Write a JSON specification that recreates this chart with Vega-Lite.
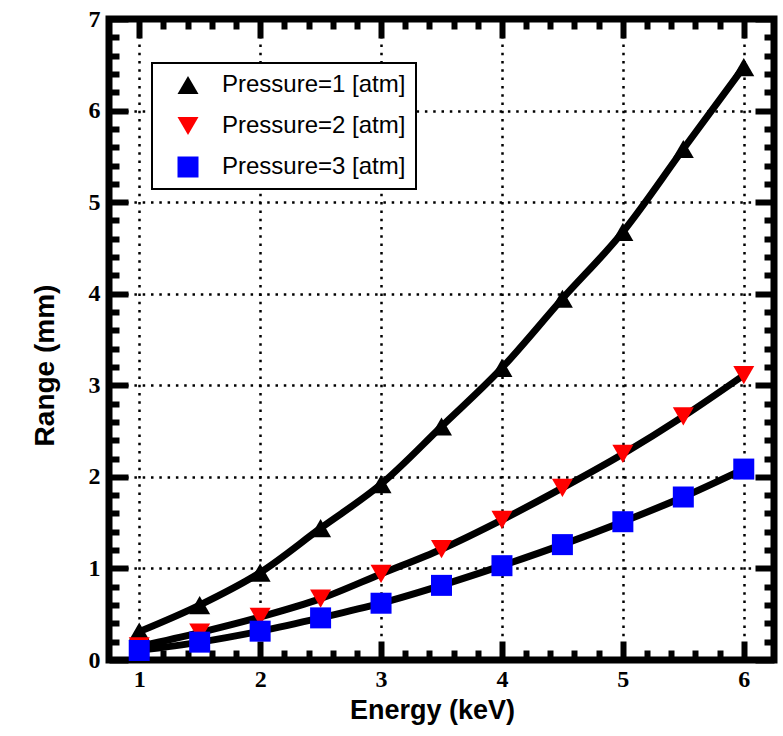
{
  "$schema": "https://vega.github.io/schema/vega-lite/v6.json",
  "width": 665,
  "height": 641,
  "autosize": {"type": "none"},
  "padding": {"left": 109, "top": 19, "right": 9, "bottom": 76},
  "background": "white",
  "config": {"view": {"stroke": "black", "strokeWidth": 7}, "legend": {"strokeWidth": 2}},
  "data": {"values": [
    {"E": 1, "R": 0.31, "P": "Pressure=1 [atm]"},
    {"E": 1.5, "R": 0.60, "P": "Pressure=1 [atm]"},
    {"E": 2, "R": 0.955, "P": "Pressure=1 [atm]"},
    {"E": 2.5, "R": 1.44, "P": "Pressure=1 [atm]"},
    {"E": 3, "R": 1.92, "P": "Pressure=1 [atm]"},
    {"E": 3.5, "R": 2.55, "P": "Pressure=1 [atm]"},
    {"E": 4, "R": 3.19, "P": "Pressure=1 [atm]"},
    {"E": 4.5, "R": 3.945, "P": "Pressure=1 [atm]"},
    {"E": 5, "R": 4.675, "P": "Pressure=1 [atm]"},
    {"E": 5.5, "R": 5.58, "P": "Pressure=1 [atm]"},
    {"E": 6, "R": 6.475, "P": "Pressure=1 [atm]"},
    {"E": 1, "R": 0.15, "P": "Pressure=2 [atm]"},
    {"E": 1.5, "R": 0.30, "P": "Pressure=2 [atm]"},
    {"E": 2, "R": 0.47, "P": "Pressure=2 [atm]"},
    {"E": 2.5, "R": 0.67, "P": "Pressure=2 [atm]"},
    {"E": 3, "R": 0.94, "P": "Pressure=2 [atm]"},
    {"E": 3.5, "R": 1.21, "P": "Pressure=2 [atm]"},
    {"E": 4, "R": 1.53, "P": "Pressure=2 [atm]"},
    {"E": 4.5, "R": 1.88, "P": "Pressure=2 [atm]"},
    {"E": 5, "R": 2.25, "P": "Pressure=2 [atm]"},
    {"E": 5.5, "R": 2.66, "P": "Pressure=2 [atm]"},
    {"E": 6, "R": 3.11, "P": "Pressure=2 [atm]"},
    {"E": 1, "R": 0.104, "P": "Pressure=3 [atm]"},
    {"E": 1.5, "R": 0.195, "P": "Pressure=3 [atm]"},
    {"E": 2, "R": 0.315, "P": "Pressure=3 [atm]"},
    {"E": 2.5, "R": 0.46, "P": "Pressure=3 [atm]"},
    {"E": 3, "R": 0.62, "P": "Pressure=3 [atm]"},
    {"E": 3.5, "R": 0.815, "P": "Pressure=3 [atm]"},
    {"E": 4, "R": 1.03, "P": "Pressure=3 [atm]"},
    {"E": 4.5, "R": 1.26, "P": "Pressure=3 [atm]"},
    {"E": 5, "R": 1.51, "P": "Pressure=3 [atm]"},
    {"E": 5.5, "R": 1.78, "P": "Pressure=3 [atm]"},
    {"E": 6, "R": 2.085, "P": "Pressure=3 [atm]"}
  ]},
  "resolve": {"axis": {"x": "independent", "y": "independent"}},
  "layer": [
    {
      "mark": {"type": "point", "opacity": 0},
      "encoding": {
        "x": {"field": "E", "type": "quantitative", "scale": {"domain": [0.75, 6.25], "nice": false, "zero": false},
          "axis": {"orient": "bottom", "values": [1, 2, 3, 4, 5, 6], "format": "d", "grid": true, "gridColor": "black", "gridDash": [2.5, 5.8], "gridWidth": 2.5, "gridOpacity": 1,
            "domain": false, "tickSize": -19, "tickWidth": 6, "tickColor": "black", "tickOpacity": 1,
            "labelFont": "Liberation Serif", "labelFontWeight": "bold", "labelFontSize": 24, "labelColor": "black", "labelPadding": 26, "labelFlush": false, "labelOverlap": false,
            "title": "Energy (keV)", "titleFont": "Liberation Sans", "titleFontWeight": "bold", "titleFontSize": 27, "titleColor": "black", "titleX": 323, "titleY": 58, "titleBaseline": "alphabetic", "titleAlign": "center"}},
        "y": {"field": "R", "type": "quantitative", "scale": {"domain": [0, 7], "nice": false, "zero": false},
          "axis": {"orient": "left", "values": [0, 1, 2, 3, 4, 5, 6, 7], "format": "d", "grid": true, "gridColor": "black", "gridDash": [2.5, 5.8], "gridWidth": 2.5, "gridOpacity": 1,
            "domain": false, "tickSize": -19, "tickWidth": 6, "tickColor": "black", "tickOpacity": 1,
            "labelFont": "Liberation Serif", "labelFontWeight": "bold", "labelFontSize": 24, "labelColor": "black", "labelPadding": 28, "labelFlush": false, "labelOverlap": false, "labelBaseline": "middle",
            "title": "Range (mm)", "titleFont": "Liberation Sans", "titleFontWeight": "bold", "titleFontSize": 28, "titleColor": "black", "titleX": -56, "titleY": 346, "titleAngle": 270, "titleBaseline": "alphabetic", "titleAlign": "center"}}
      }
    },
    {
      "mark": {"type": "point", "opacity": 0},
      "encoding": {
        "x": {"field": "E", "type": "quantitative", "scale": {"domain": [0.75, 6.25], "nice": false, "zero": false},
          "axis": {"orient": "bottom", "values": [1.2, 1.4, 1.6, 1.8, 2.2, 2.4, 2.6, 2.8, 3.2, 3.4, 3.6, 3.8, 4.2, 4.4, 4.6, 4.8, 5.2, 5.4, 5.6, 5.8], "labels": false, "grid": false, "domain": false, "tickSize": -10, "tickWidth": 6, "tickColor": "black", "title": null}},
        "y": {"field": "R", "type": "quantitative", "scale": {"domain": [0, 7], "nice": false, "zero": false},
          "axis": {"orient": "left", "values": [0.2, 0.4, 0.6, 0.8, 1.2, 1.4, 1.6, 1.8, 2.2, 2.4, 2.6, 2.8, 3.2, 3.4, 3.6, 3.8, 4.2, 4.4, 4.6, 4.8, 5.2, 5.4, 5.6, 5.8, 6.2, 6.4, 6.6, 6.8], "labels": false, "grid": false, "domain": false, "tickSize": -10, "tickWidth": 6, "tickColor": "black", "title": null}}
      }
    },
    {
      "mark": {"type": "point", "opacity": 0},
      "encoding": {
        "x": {"field": "E", "type": "quantitative", "scale": {"domain": [0.75, 6.25], "nice": false, "zero": false},
          "axis": {"orient": "top", "values": [1, 2, 3, 4, 5, 6], "labels": false, "grid": false, "domain": false, "tickSize": -19, "tickWidth": 6, "tickColor": "black", "title": null}},
        "y": {"field": "R", "type": "quantitative", "scale": {"domain": [0, 7], "nice": false, "zero": false},
          "axis": {"orient": "right", "values": [0, 1, 2, 3, 4, 5, 6, 7], "labels": false, "grid": false, "domain": false, "tickSize": -19, "tickWidth": 6, "tickColor": "black", "title": null}}
      }
    },
    {
      "mark": {"type": "point", "opacity": 0},
      "encoding": {
        "x": {"field": "E", "type": "quantitative", "scale": {"domain": [0.75, 6.25], "nice": false, "zero": false},
          "axis": {"orient": "top", "values": [1.2, 1.4, 1.6, 1.8, 2.2, 2.4, 2.6, 2.8, 3.2, 3.4, 3.6, 3.8, 4.2, 4.4, 4.6, 4.8, 5.2, 5.4, 5.6, 5.8], "labels": false, "grid": false, "domain": false, "tickSize": -10, "tickWidth": 6, "tickColor": "black", "title": null}},
        "y": {"field": "R", "type": "quantitative", "scale": {"domain": [0, 7], "nice": false, "zero": false},
          "axis": {"orient": "right", "values": [0.2, 0.4, 0.6, 0.8, 1.2, 1.4, 1.6, 1.8, 2.2, 2.4, 2.6, 2.8, 3.2, 3.4, 3.6, 3.8, 4.2, 4.4, 4.6, 4.8, 5.2, 5.4, 5.6, 5.8, 6.2, 6.4, 6.6, 6.8], "labels": false, "grid": false, "domain": false, "tickSize": -10, "tickWidth": 6, "tickColor": "black", "title": null}}
      }
    },
    {
      "mark": {"type": "line", "color": "black", "strokeWidth": 7, "interpolate": "monotone"},
      "encoding": {
        "x": {"field": "E", "type": "quantitative", "scale": {"domain": [0.75, 6.25], "nice": false, "zero": false}, "axis": null},
        "y": {"field": "R", "type": "quantitative", "scale": {"domain": [0, 7], "nice": false, "zero": false}, "axis": null},
        "detail": {"field": "P", "type": "nominal"}
      }
    },
    {
      "mark": {"type": "point", "filled": true, "size": 441, "opacity": 1},
      "encoding": {
        "x": {"field": "E", "type": "quantitative", "scale": {"domain": [0.75, 6.25], "nice": false, "zero": false}, "axis": null},
        "y": {"field": "R", "type": "quantitative", "scale": {"domain": [0, 7], "nice": false, "zero": false}, "axis": null},
        "color": {"field": "P", "type": "nominal",
          "scale": {"domain": ["Pressure=1 [atm]", "Pressure=2 [atm]", "Pressure=3 [atm]"], "range": ["black", "red", "blue"]},
          "legend": {"title": null, "orient": "none", "direction": "vertical", "legendX": 43, "legendY": 44, "fillColor": "white", "strokeColor": "black", "padding": 10, "symbolOffset": 14, "labelOffset": 22, "rowPadding": 17, "symbolSize": 441, "symbolStrokeWidth": 0, "symbolOpacity": 1, "labelFont": "Liberation Sans", "labelFontSize": 24, "labelColor": "black", "labelLimit": 400, "zindex": 2}},
        "shape": {"field": "P", "type": "nominal",
          "scale": {"domain": ["Pressure=1 [atm]", "Pressure=2 [atm]", "Pressure=3 [atm]"], "range": ["triangle-up", "triangle-down", "square"]},
          "legend": {"title": null, "orient": "none", "direction": "vertical", "legendX": 43, "legendY": 44, "fillColor": "white", "strokeColor": "black", "padding": 10, "symbolOffset": 14, "labelOffset": 22, "rowPadding": 17, "symbolSize": 441, "symbolStrokeWidth": 0, "symbolOpacity": 1, "labelFont": "Liberation Sans", "labelFontSize": 24, "labelColor": "black", "labelLimit": 400, "zindex": 2}}
      }
    }
  ]
}
